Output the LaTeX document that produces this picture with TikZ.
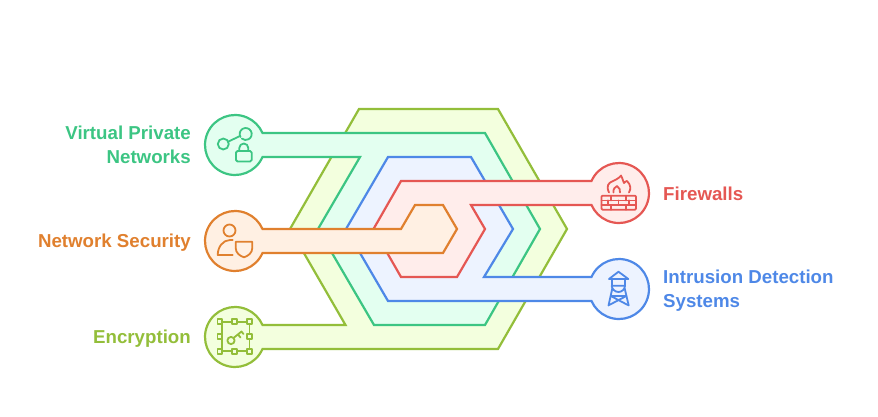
\documentclass[tikz,border=0pt]{standalone}
\usepackage{fontspec}
\setmainfont{Liberation Sans}
\usepackage{xcolor}
\usepackage{tikz}
\usetikzlibrary{positioning}

\definecolor{oliveline}{HTML}{93BE3A}
\definecolor{olivefill}{HTML}{F3FFDE}
\definecolor{greenline}{HTML}{3CC583}
\definecolor{greenfill}{HTML}{E3FFF0}
\definecolor{blueline}{HTML}{4E88E7}
\definecolor{bluefill}{HTML}{EDF3FF}
\definecolor{redline}{HTML}{E55753}
\definecolor{redfill}{HTML}{FFEDEB}
\definecolor{orangeline}{HTML}{E0802E}
\definecolor{orangefill}{HTML}{FFF0E3}

\tikzset{
	band/.style={draw=#1line,fill=#1fill,line width=2.2pt,line join=miter},
	icon/.style={draw=#1line,line width=1.8pt,line join=round,line cap=round},
	label/.style={text=#1line,font=\fontsize{18.7}{24}\selectfont\bfseries,inner sep=0pt}
}

\begin{document}
\begin{tikzpicture}[x=1pt,y=-1pt]
	\useasboundingbox (0,0) rectangle (878,416);

	% ---------------- Bands ----------------
	\draw[band=olive] (262.5,349) arc[start angle=23.6,end angle=336.4,radius=30]
		-- (345.5,325) -- (290,229) -- (359,109) -- (498,109) -- (567,229) -- (498,349) -- cycle;
	\draw[band=green] (262.5,157) arc[start angle=23.6,end angle=336.4,radius=30]
		-- (485,133) -- (540,229) -- (485,325) -- (374,325) -- (318,229) -- (360,157) -- cycle;
	\draw[band=blue] (591.5,277) arc[start angle=203.6,end angle=516.4,radius=30]
		-- (388,301) -- (346,229) -- (388,157) -- (471,157) -- (513,229) -- (484,277) -- cycle;
	\draw[band=red] (591.5,181) arc[start angle=203.6,end angle=516.4,radius=30]
		-- (471,205) -- (485,229) -- (457,277) -- (401,277) -- (373.5,229) -- (401,181) -- cycle;
	\draw[band=orange] (262.5,253) arc[start angle=23.6,end angle=336.4,radius=30]
		-- (401,229) -- (415,205) -- (443,205) -- (457,229) -- (443,253) -- cycle;

	% ---------------- Labels ----------------
	\node[label=green,anchor=east,align=right] (vpn) at (191,145) {Virtual Private\\Networks};
	\node[label=orange,anchor=east] (netsec) at (191,242.5) {Network Security};
	\node[label=olive,anchor=east] (encrypt) at (191,338.5) {Encryption};
	\node[label=red,anchor=west] (firewall) at (663,194) {Firewalls};
	\node[label=blue,anchor=west,align=left] (ids) at (663,290.5) {Intrusion Detection\\Systems};

	% ---------------- Icon: network and lock ----------------
	\draw[icon=green] (223.3,144) circle[radius=5.5];
	\draw[icon=green] (240.5,137) arc[start angle=150,end angle=490,radius=6];
	\draw[icon=green] (228.5,141.5) -- (240,136);
	\draw[icon=green,rounded corners=1.5pt] (236,151) rectangle (251.7,161.5);
	\draw[icon=green] (239.3,151) -- (239.3,148) arc[start angle=180,end angle=360,radius=4.5] -- (248.3,151);

	% ---------------- Icon: person and shield ----------------
	\draw[icon=orange] (229.5,230.5) circle[radius=6];
	\draw[icon=orange] (232.7,240) -- (230,240) .. controls (223,240) and (217.7,247) .. (217.7,255) -- (232.7,255);
	\draw[icon=orange] (235.7,241.7) -- (252.3,241.7) -- (252.3,248)
		.. controls (252.3,253) and (248,256) .. (244,257.3)
		.. controls (240,256) and (235.7,253) .. (235.7,248) -- cycle;

	% ---------------- Icon: key in a frame ----------------
	\draw[icon=olive] (221.7,322) rectangle (249.5,351);
	\foreach \px/\py in {219.7/321.5,234.5/321.5,249.5/321.5,219.7/336.5,249.5/336.5,219.7/351.5,234.5/351.5,249.5/351.5}
		\draw[icon=olive,fill=olivefill] (\px-2.3,\py-2.3) rectangle (\px+2.3,\py+2.3);
	\draw[icon=olive] (231,340.5) circle[radius=3.6];
	\draw[icon=olive] (233.5,338) -- (241.5,331.5) -- (243.5,334) (238,334.5) -- (240.5,337.5);

	% ---------------- Icon: brick wall and flame ----------------
	\draw[icon=red,rounded corners=1pt] (601.5,195.7) rectangle (636,209.7);
	\draw[icon=red] (601.5,200.4) -- (636,200.4) (601.5,205) -- (636,205);
	\draw[icon=red] (611,195.7) -- (611,200.4) (626,195.7) -- (626,200.4);
	\draw[icon=red] (618.5,200.4) -- (618.5,205) (608,200.4) -- (608,205) (629,200.4) -- (629,205);
	\draw[icon=red] (611,205) -- (611,209.7) (626,205) -- (626,209.7);
	\draw[icon=red] (609,192.5) .. controls (606,186) and (608,183) .. (613,181)
		.. controls (618,179) and (621,176) .. (621,175.5)
		.. controls (623,179) and (623,182) .. (624,183)
		.. controls (625,182) and (626,181) .. (627,181)
		.. controls (631,185) and (631,189) .. (629,192.5);
	\draw[icon=red] (613.5,192.5) .. controls (613,189) and (615,187) .. (617,186)
		.. controls (619,188) and (621,190) .. (620,192.5);

	% ---------------- Icon: watch tower ----------------
	\draw[icon=blue] (609,279) -- (618.5,271.7) -- (628.3,279) -- cycle;
	\draw[icon=blue] (611.7,279) -- (611.7,285.7) (625,279) -- (625,285.7);
	\draw[icon=blue] (611.7,285.7) -- (625,285.7) .. controls (625,289) and (622,292) .. (618.5,292)
		.. controls (615,292) and (611.7,289) .. (611.7,285.7);
	\draw[icon=blue] (612.3,288.5) -- (608.5,305.5) (624.7,288.5) -- (628.7,305.5);
	\draw[icon=blue] (610.8,296) -- (626.3,296) (610.8,296) -- (627.8,305) (626.3,296) -- (609.2,305);
\end{tikzpicture}
\end{document}
